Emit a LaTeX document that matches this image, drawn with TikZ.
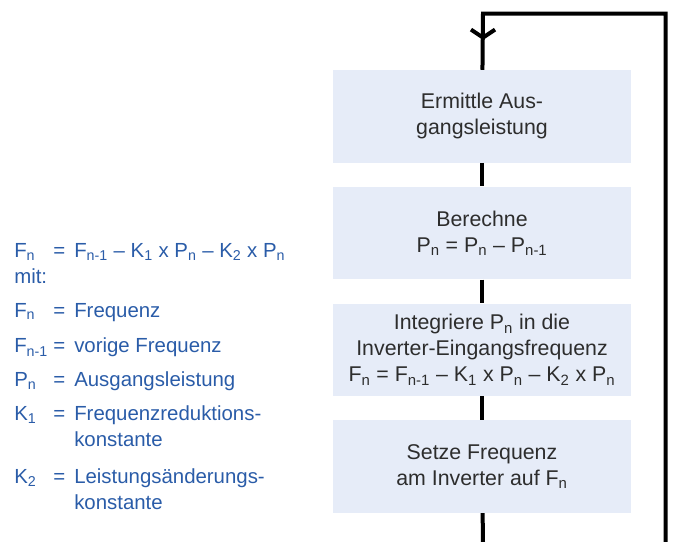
\documentclass[tikz,border=0pt]{standalone}
\usepackage{fontspec}
\setmainfont{Liberation Sans}
\usetikzlibrary{arrows.meta}

\definecolor{boxfill}{RGB}{230,236,248}
\definecolor{boxtext}{RGB}{45,45,45}
\definecolor{legblue}{RGB}{42,92,168}

\tikzset{
  stepbox/.style={fill=boxfill, text=boxtext, minimum width=223.5pt, minimum height=69.4pt,
    inner sep=0pt, align=center, font=\fontsize{16}{19.5}\selectfont},
  flow/.style={line width=3pt, line join=miter},
  legend/.style={anchor=base west, inner sep=0pt, text=legblue, font=\fontsize{15.3}{19}\selectfont},
}
\newcommand{\sub}[1]{\textsubscript{#1}}

\begin{document}
\begin{tikzpicture}[x=0.75pt,y=0.75pt,yscale=-1,xscale=1]
\useasboundingbox (0,0) rectangle (676,542);
%Shape: Boxes
\node[stepbox] (ermittle) at (482,116.3) {Ermittle Aus-\\gangsleistung};
\node[stepbox] (berechne) at (482,233) {Berechne\\P\sub{n} = P\sub{n} – P\sub{n-1}};
\node[stepbox] (integriere) at (482,349.8) {Integriere P\sub{n} in die\\Inverter-Eingangsfrequenz\\F\sub{n} = F\sub{n-1} – K\sub{1} x P\sub{n} – K\sub{2} x P\sub{n}};
\node[stepbox] (setze) at (482,466.6) {Setze Frequenz\\am Inverter auf F\sub{n}};
%Loop corners
\coordinate (loopbl) at (483,542);
\coordinate (loopbr) at (665.7,542);
\coordinate (looptr) at (665.7,13.7);
\coordinate (looptl) at (483,13.7);
\coordinate (looptip) at (483,40);
%Straight Lines
\draw[flow] (ermittle) -- (berechne);
\draw[flow] (berechne) -- (integriere);
\draw[flow] (integriere) -- (setze);
\draw[flow] (setze) -- (loopbl);
\draw[flow] (loopbr) -- (looptr) -- (looptl) -- (ermittle);
\draw[flow, -{Straight Barb[length=6pt,width=18pt]}] (looptl) -- (looptip);
% Text Node
\node[legend] (fn0) at (14,257.3) {F\sub{n}};
\node[legend] (eq0) at (53,257.3) {=};
\node[legend] (tx0) at (74,257.3) {F\sub{n-1} – K\sub{1} x P\sub{n} – K\sub{2} x P\sub{n}};
\node[legend] (mit) at (14,283.3) {mit:};
% Text Node
\node[legend] (fn1) at (14,317) {F\sub{n}};
\node[legend] (eq1) at (53,317) {=};
\node[legend] (tx1) at (74,317) {Frequenz};
% Text Node
\node[legend] (fn2) at (14,353) {F\sub{n-1}};
\node[legend] (eq2) at (53,353) {=};
\node[legend] (tx2) at (74,353) {vorige Frequenz};
% Text Node
\node[legend] (pn) at (14,386.7) {P\sub{n}};
\node[legend] (eq3) at (53,386.7) {=};
\node[legend] (tx3) at (74,386.7) {Ausgangsleistung};
% Text Node
\node[legend] (k1) at (14,420) {K\sub{1}};
\node[legend] (eq4) at (53,420) {=};
\node[legend] (tx4) at (74,420) {Frequenzreduktions-};
\node[legend] (tx4b) at (74,446.5) {konstante};
% Text Node
\node[legend] (k2) at (14,483.5) {K\sub{2}};
\node[legend] (eq5) at (53,483.5) {=};
\node[legend] (tx5) at (74,483.5) {Leistungsänderungs-};
\node[legend] (tx5b) at (74,509.5) {konstante};
\end{tikzpicture}
\end{document}
